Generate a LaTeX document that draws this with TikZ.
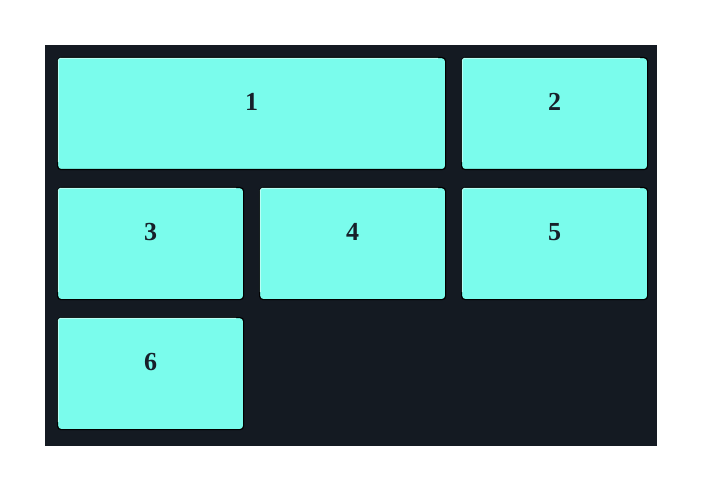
\documentclass[tikz,border=0pt]{standalone}
\usepackage{fontspec}
\setmainfont{Liberation Serif}
\definecolor{bgdark}{HTML}{141A22}
\definecolor{cell}{HTML}{7AFCEC}
\definecolor{cellhi}{HTML}{B8FFF6}
\definecolor{txt}{HTML}{17202A}
\tikzset{
  cellbox/.style={draw=black, line width=1.2pt, fill=cell, rounded corners=3.5pt,
    minimum width=186pt, minimum height=112pt, inner sep=0pt, anchor=north west},
  widebox/.style={cellbox, minimum width=388pt},
  celltext/.style={font=\fontsize{26}{30}\selectfont\bfseries, text=txt, inner sep=0pt}
}
\begin{document}
\begin{tikzpicture}[x=1pt,y=-1pt]
\useasboundingbox (0,0) rectangle (702,492);
\fill[bgdark] (45,45) rectangle (657,446);
\node[widebox] (b1) at (57,57) {};
\node[cellbox] (b2) at (461,57) {};
\node[cellbox] (b3) at (57,187) {};
\node[cellbox] (b4) at (259,187) {};
\node[cellbox] (b5) at (461,187) {};
\node[cellbox] (b6) at (57,317) {};
\foreach \n in {b1,b2,b3,b4,b5,b6}{
  \draw[cellhi, line width=1pt, rounded corners=2.5pt]
    ([xshift=1.3pt,yshift=8pt]\n.south west) -- ([xshift=1.3pt,yshift=-1.3pt]\n.north west) -- ([xshift=-8pt,yshift=-1.3pt]\n.north east);
}
\node[celltext] (t1) at ([yshift=11.5pt]b1.center) {1};
\node[celltext] (t2) at ([yshift=11.5pt]b2.center) {2};
\node[celltext] (t3) at ([yshift=11.5pt]b3.center) {3};
\node[celltext] (t4) at ([yshift=11.5pt]b4.center) {4};
\node[celltext] (t5) at ([yshift=11.5pt]b5.center) {5};
\node[celltext] (t6) at ([yshift=11.5pt]b6.center) {6};
\end{tikzpicture}
\end{document}
